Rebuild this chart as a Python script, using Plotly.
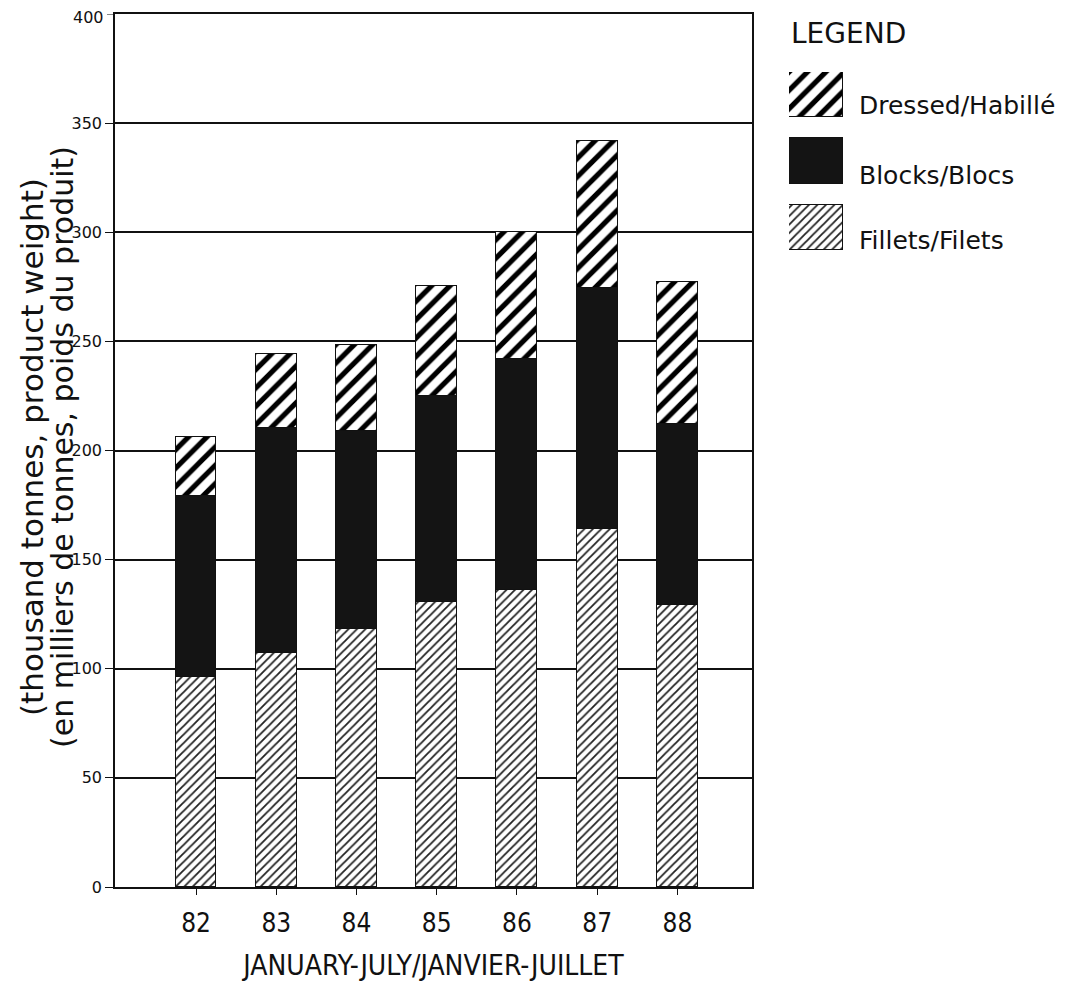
import plotly.graph_objects as go

years = ["82", "83", "84", "85", "86", "87", "88"]
year_pos = [82, 83, 84, 85, 86, 87, 88]
fillets = [96, 107, 118, 130.5, 136, 164, 129]
blocks = [83, 103.5, 91, 94.5, 106, 110.5, 83]
dressed = [27, 33.5, 39.5, 50.5, 58, 67.5, 65]
y_ticks = [0, 50, 100, 150, 200, 250, 300, 350, 400]
legend_names = ["Dressed/Habillé", "Blocks/Blocs", "Fillets/Filets"]
y_title_lines = ["(thousand tonnes, product weight)", "(en milliers de tonnes, poids du produit)"]
x_title = "JANUARY-JULY/JANVIER-JUILLET"

FONT = "DejaVu Sans"
NARROW = "DejaVu Sans Condensed, Liberation Sans Narrow, DejaVu Sans"

OFF = 8  # page body margin
W, H = 1070 - OFF, 982 - OFF
ML, MR, MT, MB = 115 - OFF, 0, 14 - OFF, 95
pw, ph = W - ML - MR, H - MT - MB


def px_x(sx):
    return (sx - OFF - ML) / pw


def px_y(sy):
    return 1 - (sy - OFF - MT) / ph


main_right = px_x(752)

fill_pat = dict(shape="/", size=6, solidity=0.3, fgcolor="#222", fgopacity=1,
                bgcolor="white", fillmode="overlay")
dress_pat = dict(shape="/", size=13, solidity=0.4, fgcolor="#000", fgopacity=1,
                 bgcolor="white", fillmode="overlay")
line = dict(color="#111", width=1.5)

fig = go.Figure()
fig.add_trace(go.Bar(x=year_pos, y=fillets, name=legend_names[2], width=0.51,
                     marker=dict(color="white", pattern=fill_pat, line=line)))
fig.add_trace(go.Bar(x=year_pos, y=blocks, name=legend_names[1], width=0.51,
                     marker=dict(color="#141414", line=line)))
fig.add_trace(go.Bar(x=year_pos, y=dressed, name=legend_names[0], width=0.51,
                     marker=dict(color="white", pattern=dress_pat, line=line)))

# legend swatches in a small side subplot
sw_pos = [2, 1, 0]
sw_markers = [dict(color="white", pattern=dress_pat, line=line),
              dict(color="#141414", line=line),
              dict(color="white", pattern=fill_pat, line=line)]
for name, p, mk in zip(legend_names, sw_pos, sw_markers):
    fig.add_trace(go.Bar(x=[1], y=[p], orientation="h", width=0.68, marker=mk,
                         xaxis="x2", yaxis="y2", showlegend=False, name=name,
                         hoverinfo="skip"))

fig.update_layout(
    width=W, height=H,
    margin=dict(l=ML, r=MR, t=MT, b=MB),
    barmode="stack",
    bargap=0,
    showlegend=False,
    plot_bgcolor="white", paper_bgcolor="white",
    font=dict(family=FONT, color="#111"),
    xaxis=dict(domain=[0, main_right], range=[80.99, 88.93], tickvals=year_pos, ticktext=years,
               ticks="outside", ticklen=6, tickcolor="#111", tickwidth=1, ticklabelstandoff=6,
               showgrid=False, zeroline=False, showline=True, linecolor="#111", linewidth=2,
               mirror=True,
               tickfont=dict(size=26, family=NARROW),
               title=dict(text=x_title, font=dict(size=28, family=NARROW), standoff=22)),
    yaxis=dict(range=[0, 400], tickvals=y_ticks[:-1], ticks="outside", ticklen=8, tickcolor="#111",
               showgrid=True, gridcolor="#111", gridwidth=2, zeroline=False,
               showline=True, linecolor="#111", linewidth=1.5, mirror=True,
               tickfont=dict(size=16, family=FONT)),
    xaxis2=dict(domain=[px_x(789), px_x(843)], range=[0, 1], visible=False, anchor="y2"),
    yaxis2=dict(domain=[px_y(250), px_y(72)], range=[-0.34, 2.34], visible=False, anchor="x2"),
)

# top tick "400": drawn as an annotation so it stays inside the page edge
fig.add_annotation(text=str(y_ticks[-1]), x=0, y=y_ticks[-1], xref="paper", yref="y",
                   xanchor="right", yanchor="middle", xshift=-9, yshift=-3, showarrow=False,
                   font=dict(size=16, family=FONT, color="#111"))
fig.add_shape(type="line", x0=-8, x1=0, xref="paper", y0=y_ticks[-1], y1=y_ticks[-1], yref="y",
              xsizemode="pixel", xanchor=0, line=dict(color="#111", width=1))

# two-line y axis title
for txt, sx, fs in zip(y_title_lines, [32, 62], [31, 30]):
    fig.add_annotation(text=txt, x=px_x(sx), y=px_y(447), xref="paper", yref="paper",
                       xanchor="center", yanchor="middle", showarrow=False, textangle=-90,
                       font=dict(size=fs, family=FONT, color="#111"))

fig.add_annotation(text="LEGEND", x=px_x(789), y=px_y(33), xref="paper", yref="paper",
                   xanchor="left", yanchor="middle", showarrow=False,
                   font=dict(size=28, family=FONT, color="#111"))
for name, sy in zip(legend_names, [106, 175, 241]):
    fig.add_annotation(text=name, x=px_x(857), y=px_y(sy), xref="paper", yref="paper",
                       xanchor="left", yanchor="middle", showarrow=False,
                       font=dict(size=25, family=FONT, color="#111"))

fig.write_html("out.html")
